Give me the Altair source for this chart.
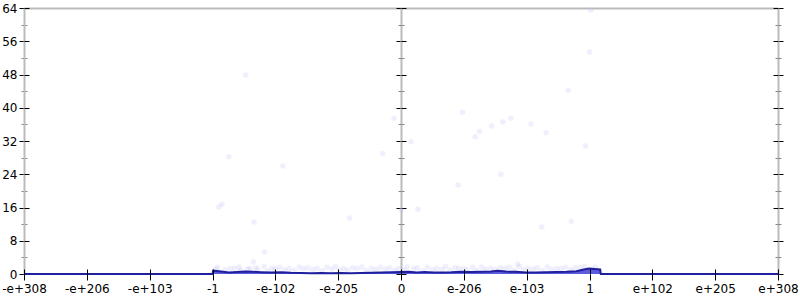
import altair as alt
import pandas as pd

# x positions are tick slots (-6 .. 6), labelled with the float magnitudes
tick_pos = [-6, -5, -4, -3, -2, -1, 0, 1, 2, 3, 4, 5, 6]
tick_labels = ["-e+308", "-e+206", "-e+103", "-1", "-e-102", "-e-205", "0",
               "e-206", "e-103", "1", "e+102", "e+205", "e+308"]
y_major = [0, 8, 16, 24, 32, 40, 48, 56, 64]
y_minor = [4, 12, 20, 28, 36, 44, 52, 60]

# density line
line_t = [-6.0, -3.0, -2.99, -2.86, -2.74, -2.61, -2.48, -2.36, -2.23, -2.07, -1.91,
          -1.75, -1.59, -1.43, -1.27, -1.11, -0.95, -0.80, -0.64, -0.48, -0.32,
          -0.16, 0.0, 0.13, 0.25, 0.38, 0.51, 0.64, 0.80, 0.95, 1.11, 1.27, 1.43,
          1.54, 1.67, 1.83, 1.99, 2.15, 2.31, 2.47, 2.63, 2.79, 2.91, 2.99, 3.07,
          3.17, 3.18, 6.0]
line_v = [0.0, 0.0, 0.8, 0.6, 0.36, 0.48, 0.6, 0.53, 0.43, 0.36, 0.41,
          0.29, 0.24, 0.19, 0.24, 0.17, 0.24, 0.19, 0.24, 0.29, 0.34,
          0.41, 0.48, 0.53, 0.36, 0.48, 0.38, 0.34, 0.41, 0.53, 0.48, 0.55, 0.6,
          0.77, 0.58, 0.53, 0.38, 0.34, 0.43, 0.48, 0.53, 0.67, 1.08, 1.32, 1.2,
          1.08, 0.0, 0.0]

# individual samples (faint dots)
pt_t = [-2.74, -1.88, -2.90, -2.85, -2.34, -2.17, -2.35, -0.82, -0.29, -2.47, -0.11,
        3.02, 3.00, 2.66, 0.98, 1.62, 1.75, 1.44, 1.25, 1.18, 2.07, 2.31, 2.94, 0.16,
        1.59, 0.91, 0.27, 0.0, 2.24, 2.71, 1.86,
        -2.95, -2.80, -2.65, -2.55, -2.40, -2.28, -2.12, -2.00, -1.85, -1.70, -1.55,
        -1.40, -1.25, -1.10, -0.98, -0.85, -0.70, -0.55, -0.40, -0.25, -0.10, 0.05,
        0.20, 0.35, 0.50, 0.65, 0.78, 0.92, 1.05, 1.20, 1.35, 1.50, 1.65, 1.80,
        1.95, 2.10, 2.25, 2.40, 2.55, 2.70, 2.85, 3.05, 3.12,
        -2.92, -2.72, -2.58, -2.44, -2.31, -2.18, -2.05, -1.93, -1.78, -1.62, -1.48,
        -1.33, -1.18, -1.04, -0.91, -0.77, -0.62, -0.47, -0.33, -0.18, -0.04, 0.10,
        0.26, 0.42, 0.57, 0.71, 0.86, 1.00, 1.14, 1.28, 1.43, 1.58, 1.72, 1.88,
        2.02, 2.17, 2.33, 2.48, 2.62, 2.77, 2.92, 3.09]
pt_v = [28.2, 26.0, 16.1, 16.8, 12.5, 5.3, 2.9, 13.5, 29.0, 47.9, 37.5,
        63.5, 53.4, 44.2, 38.9, 36.6, 37.5, 35.6, 34.3, 33.0, 36.1, 34.0, 30.8, 31.8,
        24.0, 21.4, 15.6, 15.4, 11.3, 12.7, 2.4,
        1.2, 1.0, 1.4, 0.9, 1.3, 1.1, 0.8, 1.2, 1.0, 0.9, 1.3,
        1.1, 0.8, 1.2, 1.0, 0.9, 1.3, 0.8, 1.1, 1.2, 0.9, 1.0,
        1.3, 0.8, 1.1, 1.2, 0.9, 1.4, 1.0, 0.8, 1.2, 1.1, 1.3, 0.9,
        1.0, 1.2, 0.8, 1.1, 1.3, 1.0, 1.5, 1.2, 0.9,
        1.6, 1.3, 1.7, 1.2, 1.5, 1.8, 1.4, 1.6, 1.3, 1.7, 1.5,
        1.4, 1.6, 1.8, 1.3, 1.5, 1.7, 1.4, 1.6, 1.5, 1.3, 1.7,
        1.5, 1.6, 1.4, 1.8, 1.5, 1.3, 1.6, 1.7, 1.4, 1.5, 1.6, 1.8,
        1.4, 1.5, 1.7, 1.3, 1.6, 1.5, 1.8, 1.7]

line_df = pd.DataFrame({"t": line_t, "v": line_v})
pt_df = pd.DataFrame({"t": pt_t, "v": pt_v})
dummy_df = pd.DataFrame({"t": [0.0], "v": [0.0]})

W, H = 754, 266
FONT = "DejaVu Sans"
GRAY = "#bbbbbb"

xscale = alt.Scale(domain=[-6, 6], nice=False, zero=False)
yscale = alt.Scale(domain=[0, 64], nice=False, zero=False)

label_expr = "[" + ",".join("'%s'" % s for s in tick_labels) + "][datum.value + 6]"


def yaxis(orient, offset, values, size, color, domain=False, labels=False):
    return alt.Axis(orient=orient, offset=offset, values=values, tickSize=size,
                    tickColor=color, tickWidth=1, domain=domain, domainColor=GRAY,
                    domainWidth=2, labels=labels, labelFont=FONT, labelFontSize=12,
                    labelColor="black", labelPadding=2, title=None, grid=False,
                    zindex=0)


x_main = alt.Axis(orient="bottom", values=tick_pos, labelExpr=label_expr, tickSize=6,
                  tickColor="black", tickWidth=1, domain=False, labelFont=FONT,
                  labelFontSize=12, labelColor="black", labelPadding=3, title=None,
                  grid=False, zindex=1, labelOverlap=False, labelFlush=False)
x_in = alt.Axis(orient="top", offset=-H, values=tick_pos, tickSize=5, tickColor="black",
                tickWidth=1, domain=False, labels=False, title=None, grid=False, zindex=1)
x_top = alt.Axis(orient="top", values=tick_pos, ticks=False, domain=True, domainColor=GRAY,
                 domainWidth=2, labels=False, title=None, grid=False, zindex=0)


def enc(ch, xaxis, yax):
    return ch.encode(
        x=alt.X("t:Q", scale=xscale, axis=xaxis),
        y=alt.Y("v:Q", scale=yscale, axis=yax),
    )


area = enc(alt.Chart(line_df).mark_area(color="#4b4bd8", opacity=0.9),
           x_main, yaxis("left", 0, y_major, 5, "black", domain=True, labels=True))
points = enc(alt.Chart(pt_df).mark_circle(size=30, color="#b8b8f4", opacity=0.22),
             x_in, yaxis("left", 0, y_minor, 3, "#888888"))
line = enc(alt.Chart(line_df).mark_line(color="#20209e", strokeWidth=2),
           x_top, yaxis("right", -W, y_major, 5, "black"))

extra_axes = [
    yaxis("right", -W, y_minor, 3, "#888888"),
    yaxis("left", -W / 2, y_major, 5, "black", domain=True),
    yaxis("left", -W / 2, y_minor, 3, "#888888"),
    yaxis("right", -W / 2, y_major, 5, "black"),
    yaxis("right", -W / 2, y_minor, 3, "#888888"),
    yaxis("right", 0, y_major, 5, "black", domain=True),
    yaxis("right", 0, y_minor, 3, "#888888"),
    yaxis("left", -W, y_major, 5, "black"),
    yaxis("left", -W, y_minor, 3, "#888888"),
]
dummies = [enc(alt.Chart(dummy_df).mark_point(opacity=0), None, a) for a in extra_axes]

chart = alt.layer(*dummies, points, area, line).resolve_axis(
    x="independent", y="independent"
).properties(
    width=W, height=H,
    padding={"left": 24, "top": 8, "right": 22, "bottom": 26},
    autosize=alt.AutoSizeParams(type="none"),
    background="white",
).configure_view(stroke=None)

chart.save("out.html", embed_options={"renderer": "svg", "actions": False})
